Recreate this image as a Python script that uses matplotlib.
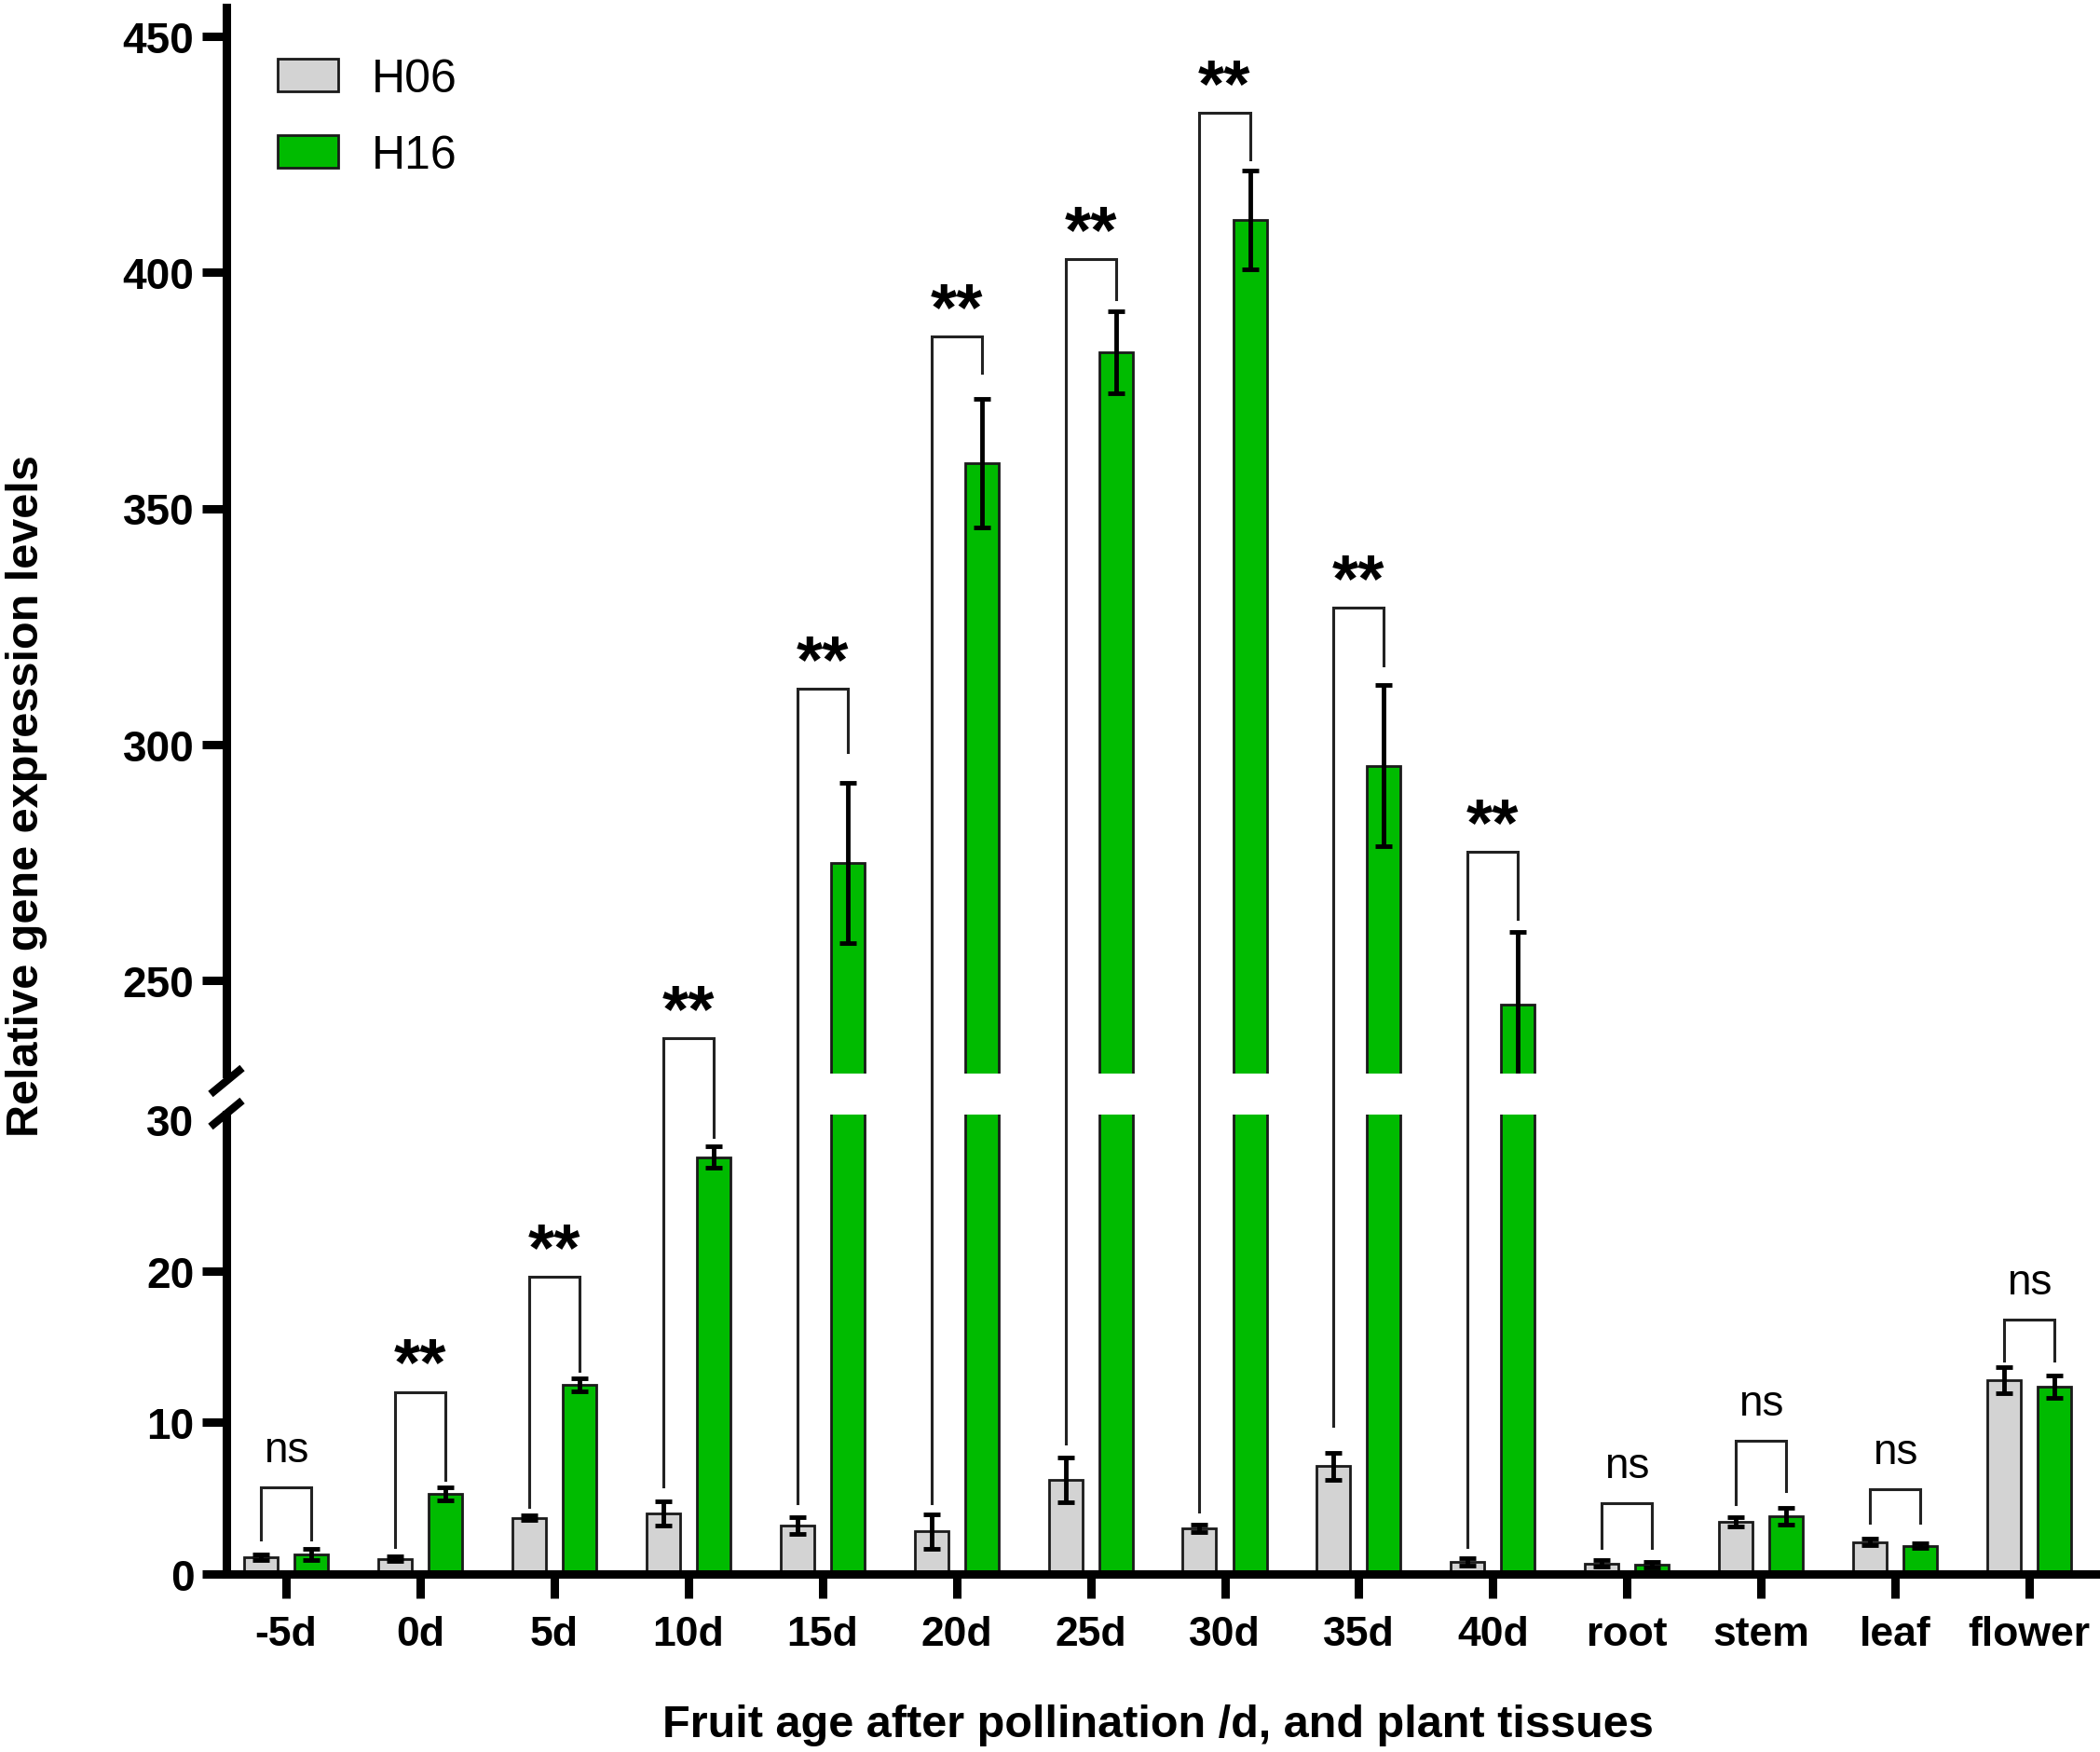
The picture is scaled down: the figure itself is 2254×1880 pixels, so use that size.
import matplotlib
matplotlib.use("Agg")
import matplotlib.pyplot as plt
from matplotlib.lines import Line2D
from matplotlib.patches import Patch
import numpy as np

plt.rcParams['font.family'] = ['Liberation Sans', 'DejaVu Sans']

# ---------------- data ----------------
categories = ['-5d', '0d', '5d', '10d', '15d', '20d', '25d', '30d', '35d', '40d',
              'root', 'stem', 'leaf', 'flower']
h06 = [1.1, 1.0, 3.7, 4.0, 3.2, 2.8, 6.2, 3.0, 7.1, 0.8, 0.7, 3.45, 2.1, 12.8]
h06_err = [0.2, 0.15, 0.15, 0.8, 0.57, 1.13, 1.48, 0.25, 0.9, 0.22, 0.2, 0.3, 0.22, 0.85]
h16 = [1.3, 5.3, 12.45, 27.5, 274.8, 359.6, 383.0, 411.1, 295.5, 244.8, 0.6, 3.8, 1.85, 12.35]
h16_err = [0.35, 0.42, 0.43, 0.7, 17.0, 13.6, 8.7, 10.4, 17.0, 15.4, 0.2, 0.55, 0.15, 0.75]

sig_label = ['ns', '**', '**', '**', '**', '**', '**', '**', '**', '**', 'ns', 'ns', 'ns', 'ns']
sig_top = [5.7, 12.0, 19.6, 237.7, 311.8, 386.4, 402.8, 433.8, 329.0, 277.2, 4.7, 8.8, 5.6, 16.8]
leg_left = [2.3, 1.8, 4.4, 5.8, 4.7, 4.7, 8.6, 4.1, 9.8, 1.8, 1.7, 4.6, 3.35, 14.1]
leg_right = [2.3, 6.2, 13.4, 28.8, 298.4, 378.7, 394.3, 423.9, 316.7, 263.0, 1.7, 5.5, 3.35, 14.1]

series_names = ['H06', 'H16']
colors = ['#d3d3d3', '#00bb00']

lower_ticks = [0, 10, 20, 30]
upper_ticks = [250, 300, 350, 400, 450]

# ---------------- layout ----------------
W, H = 2254, 1881
fig = plt.figure(figsize=(W / 100, H / 100), dpi=100)

x_left, x_right = 243, 2250
lo_bottom, lo_top = 1690, 1197
hi_bottom, hi_top = 1153, 9

ax_lo = fig.add_axes([x_left / W, 1 - lo_bottom / H, (x_right - x_left) / W, (lo_bottom - lo_top) / H])
ax_hi = fig.add_axes([x_left / W, 1 - hi_bottom / H, (x_right - x_left) / W, (hi_bottom - hi_top) / H])

x = np.arange(len(categories))
off = 0.188
bw = 0.25
edge = '#1a1a1a'

for ax in (ax_lo, ax_hi):
    ax.bar(x - off, h06, width=bw, color=colors[0], edgecolor=edge, linewidth=2.0, zorder=2)
    ax.bar(x + off, h16, width=bw, color=colors[1], edgecolor=edge, linewidth=2.0, zorder=2)
    ax.errorbar(x - off, h06, yerr=h06_err, fmt='none', ecolor='black', elinewidth=3.5,
                capsize=6.5, capthick=3.5, zorder=3)
    ax.errorbar(x + off, h16, yerr=h16_err, fmt='none', ecolor='black', elinewidth=3.5,
                capsize=6.5, capthick=3.5, zorder=3)
    ax.set_xlim(-0.445, 13.5)
    ax.spines['top'].set_visible(False)
    ax.spines['right'].set_visible(False)
    ax.spines['left'].set_linewidth(6.5)
    ax.spines['bottom'].set_linewidth(6.5)
    ax.tick_params(axis='y', direction='out', length=19, width=6.5, pad=6, labelsize=33)
    ax.set_facecolor('none')

ax_lo.set_ylim(0, (lo_bottom - lo_top) / 16.27)
ax_hi.set_ylim(250 - (hi_bottom - 1053) / 5.065, 450 + (40 - hi_top) / 5.065)

ax_lo.set_yticks(lower_ticks)
ax_hi.set_yticks(upper_ticks)
ax_lo.yaxis.get_major_ticks()[-1].tick1line.set_visible(False)

ax_hi.spines['bottom'].set_visible(False)
ax_hi.set_xticks([])

ax_lo.set_xticks(x)
ax_lo.set_xticklabels(categories)
ax_lo.tick_params(axis='x', direction='out', length=19, width=6.5, pad=13, labelsize=32)

for ax in (ax_lo, ax_hi):
    for lab in ax.get_yticklabels() + ax.get_xticklabels():
        lab.set_fontweight('bold')

# ---------------- significance brackets ----------------
def to_fig(xv, yv):
    ax = ax_hi if yv > 100 else ax_lo
    disp = ax.transData.transform((xv, yv))
    return fig.transFigure.inverted().transform(disp)

for i in range(len(categories)):
    xl, xr = x[i] - off, x[i] + off
    pts = [to_fig(xl, leg_left[i]), to_fig(xl, sig_top[i]),
           to_fig(xr, sig_top[i]), to_fig(xr, leg_right[i])]
    pts = np.array(pts)
    fig.add_artist(Line2D(pts[:, 0], pts[:, 1], transform=fig.transFigure,
                          color='#222222', linewidth=2.2, solid_joinstyle='miter', zorder=5))
    ax = ax_hi if sig_top[i] > 100 else ax_lo
    if sig_label[i] == '**':
        ax.annotate('**', xy=(x[i], sig_top[i]), xytext=(0, 6), textcoords='offset points',
                    ha='center', va='baseline', fontsize=52, fontweight='bold',
                    annotation_clip=False, zorder=6)
    else:
        ax.annotate('ns', xy=(x[i], sig_top[i]), xytext=(0, 20), textcoords='offset points',
                    ha='center', va='baseline', fontsize=33, annotation_clip=False, zorder=6)

# ---------------- axis break marks ----------------
for yc in (1161, 1196):
    fig.add_artist(Line2D([(x_left - 17) / W, (x_left + 17) / W],
                          [1 - (yc + 14) / H, 1 - (yc - 14) / H],
                          transform=fig.transFigure, color='black', linewidth=6,
                          solid_capstyle='butt'))

# ---------------- labels ----------------
fig.text(1243 / W, 1 - 1852 / H, 'Fruit age after pollination /d, and plant tissues',
         ha='center', va='center', fontsize=35, fontweight='bold')
fig.text(29 / W, 1 - 854 / H, 'Relative gene expression levels', rotation=90,
         ha='center', va='center', fontsize=35, fontweight='bold')

# ---------------- legend ----------------
handles = [Patch(facecolor=colors[0], edgecolor=edge, linewidth=2.0),
           Patch(facecolor=colors[1], edgecolor=edge, linewidth=2.0)]
fig.legend(handles, series_names, loc='upper left', bbox_to_anchor=(298 / W, 1 - 63 / H),
           bbox_transform=fig.transFigure, frameon=False, fontsize=36,
           handlelength=1.3, handleheight=0.68, handletextpad=0.72,
           labelspacing=0.72, borderpad=0, borderaxespad=0)

fig.savefig('out.png', dpi=100)
